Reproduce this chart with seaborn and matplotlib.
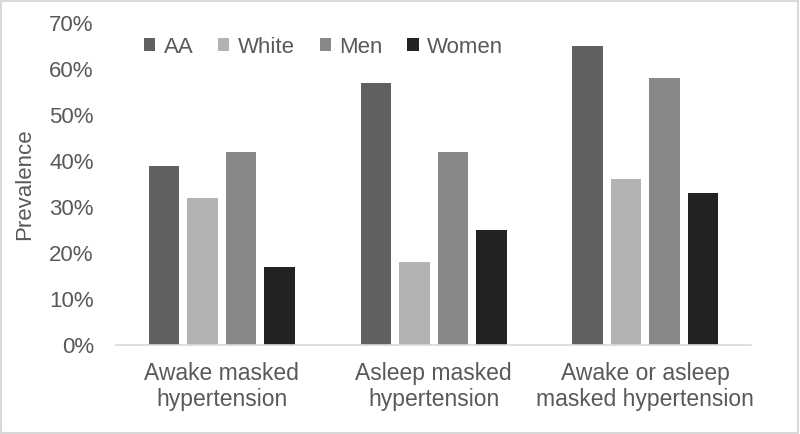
"""Grouped bar chart of masked hypertension prevalence by group."""

import matplotlib

matplotlib.use("Agg")

import matplotlib.pyplot as plt
import pandas as pd
import seaborn as sns
from matplotlib.patches import Rectangle
from matplotlib.ticker import FuncFormatter

categories = [
    "Awake masked\nhypertension",
    "Asleep masked\nhypertension",
    "Awake or asleep\nmasked hypertension",
]
groups = ["AA", "White", "Men", "Women"]
aa = [0.39, 0.57, 0.65]
white = [0.32, 0.18, 0.36]
men = [0.42, 0.42, 0.58]
women = [0.17, 0.25, 0.33]
y_ticks = [0.0, 0.1, 0.2, 0.3, 0.4, 0.5, 0.6, 0.7]

colors = ["#606060", "#b3b3b3", "#888888", "#222222"]
text_color = "#595959"


def build_frame() -> pd.DataFrame:
    """Put the series into long form for seaborn."""
    rows = []
    for name, values in zip(groups, [aa, white, men, women]):
        for cat, val in zip(categories, values):
            rows.append({"category": cat, "group": name, "value": val})
    return pd.DataFrame(rows)


def plot_prevalence() -> None:
    sns.set_theme(style="white")
    plt.rcParams["font.family"] = ["Liberation Sans", "DejaVu Sans"]

    df = build_frame()
    fig = plt.figure(figsize=(8, 4.34), dpi=100)
    ax = fig.add_axes([0.145, 0.205, 0.794, 0.742])

    sns.barplot(
        data=df, x="category", y="value", hue="group",
        order=categories, hue_order=groups, palette=colors,
        width=0.728, gap=0.21, saturation=1, ax=ax, errorbar=None,
        edgecolor="none",
    )

    ax.set_xlim(-0.5, 2.5)
    ax.set_ylim(0, 0.7)
    ax.set_yticks(y_ticks)
    ax.yaxis.set_major_formatter(FuncFormatter(lambda v, _: f"{v * 100:.0f}%"))
    ax.tick_params(axis="both", length=0, labelcolor=text_color)
    ax.tick_params(axis="x", pad=12, labelsize=16.5)
    ax.tick_params(axis="y", pad=16, labelsize=16)
    ax.set_xlabel("")
    ax.set_ylabel("Prevalence", fontsize=16, color=text_color, labelpad=0)
    ax.yaxis.set_label_coords(-0.128, 0.5)

    for side in ["top", "right", "left"]:
        ax.spines[side].set_visible(False)
    ax.spines["bottom"].set_color("#d9d9d9")
    ax.spines["bottom"].set_linewidth(1.2)

    ax.legend(
        loc="center left", bbox_to_anchor=(0.03, 0.925), ncol=4, frameon=False,
        fontsize=16, handlelength=0.5, handleheight=0.5, handletextpad=0.4,
        columnspacing=1.1, labelcolor=text_color, borderaxespad=0,
    )

    fig.patches.append(Rectangle((0.001, 0.002), 0.997, 0.996, transform=fig.transFigure,
                                 fill=False, edgecolor="#d9d9d9", linewidth=1.5))
    fig.savefig("out.png", dpi=100, facecolor="white")


if __name__ == "__main__":
    plot_prevalence()
